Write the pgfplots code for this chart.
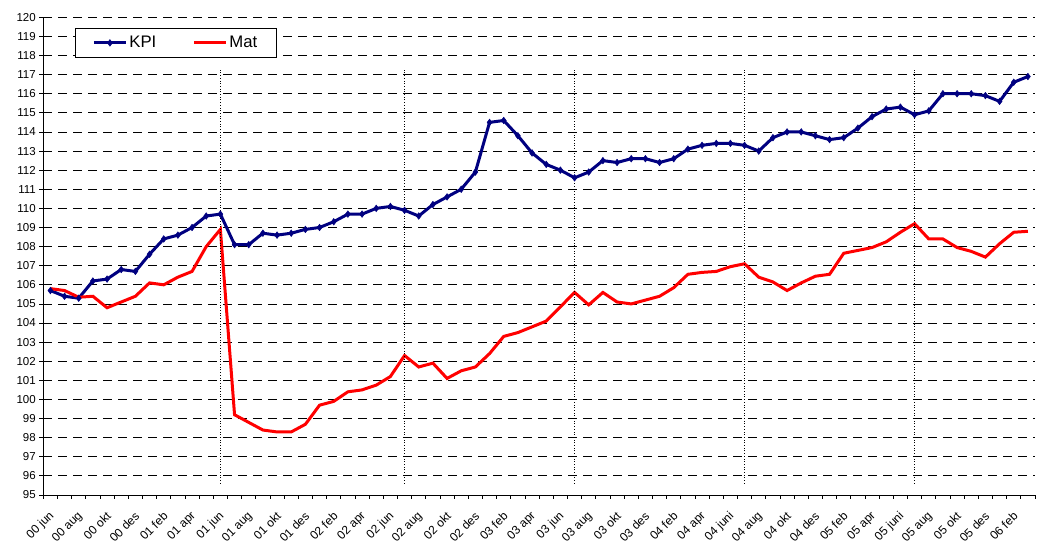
\documentclass[border=0pt]{standalone}
\usepackage{pgfplots}
\pgfplotsset{compat=1.18}
\usepackage{pgfplotstable}
\usepackage{fontspec}
\setmainfont{Liberation Sans}
\definecolor{kpiblue}{RGB}{0,0,128}
\definecolor{matred}{RGB}{255,0,0}
\pgfplotstableread{
i kpi mat
0 105.7 105.8
1 105.4 105.7
2 105.3 105.35
3 106.2 105.4
4 106.3 104.8
5 106.8 105.1
6 106.7 105.4
7 107.6 106.1
8 108.4 106.0
9 108.6 106.4
10 109.0 106.7
11 109.6 108.0
12 109.7 108.9
13 108.1 99.2
14 108.1 98.8
15 108.7 98.4
16 108.6 98.3
17 108.7 98.3
18 108.9 98.7
19 109.0 99.7
20 109.3 99.9
21 109.7 100.4
22 109.7 100.5
23 110.0 100.75
24 110.1 101.2
25 109.9 102.3
26 109.6 101.7
27 110.2 101.9
28 110.6 101.1
29 111.0 101.5
30 111.9 101.7
31 114.5 102.4
32 114.6 103.3
33 113.8 103.5
34 112.9 103.8
35 112.3 104.1
36 112.0 104.85
37 111.6 105.6
38 111.9 104.95
39 112.5 105.6
40 112.4 105.1
41 112.6 105.0
42 112.6 105.2
43 112.4 105.4
44 112.6 105.85
45 113.1 106.55
46 113.3 106.65
47 113.4 106.7
48 113.4 106.95
49 113.3 107.1
50 113.0 106.4
51 113.7 106.15
52 114.0 105.7
53 114.0 106.1
54 113.8 106.45
55 113.6 106.55
56 113.7 107.65
57 114.2 107.8
58 114.8 107.95
59 115.2 108.25
60 115.3 108.75
61 114.9 109.2
62 115.1 108.4
63 116.0 108.4
64 116.0 107.95
65 116.0 107.75
66 115.9 107.45
67 115.6 108.15
68 116.6 108.75
69 116.9 108.8
}\datatable
\begin{document}
\begin{tikzpicture}
\begin{axis}[
  at={(0pt,0pt)}, anchor=south west,
  scale only axis,
  width=991.7pt, height=477.7pt,
  xmin=-0.5, xmax=69.5,
  ymin=95, ymax=120,
  axis x line*=bottom, axis y line*=left,
  axis line style={black, line width=0.9pt},
  ytick={95,96,...,120},
  xtick={0,2,...,68},
  xticklabels={00 jun,00 aug,00 okt,00 des,01 feb,01 apr,01 jun,01 aug,01 okt,01 des,02 feb,02 apr,02 jun,02 aug,02 okt,02 des,03 feb,03 apr,03 jun,03 aug,03 okt,03 des,04 feb,04 apr,04 juni,04 aug,04 okt,04 des,05 feb,05 apr,05 juni,05 aug,05 okt,05 des,06 feb},
  minor xtick={-0.5,0.5,...,69.5},
  major x tick style={draw=none},
  minor x tick style={black, line width=0.8pt},
  y tick style={black, line width=0.8pt},
  tick align=outside,
  major tick length=4pt, minor tick length=4pt,
  ymajorgrids,
  major grid style={black, line width=0.8pt, dash pattern=on 9pt off 6pt},
  /pgf/number format/assume math mode=true,
  yticklabel style={font=\fontsize{11.5}{13}\selectfont, xshift=0pt},
  xticklabel style={font=\fontsize{12}{13}\selectfont, rotate=45, anchor=east, yshift=-12pt, xshift=-6pt},
  legend style={at={(0.032,0.9776)}, anchor=north west, draw=black, line width=0.8pt,
    font=\fontsize{16.7}{18}\selectfont, legend columns=2,
    /tikz/every even column/.append style={column sep=34pt},
    inner xsep=17pt, inner ysep=6pt},
  legend image code/.code={\draw[mark repeat=2,mark phase=2] plot coordinates {(0pt,0pt) (16pt,0pt) (32pt,0pt)};},
  clip=false,
]
\addplot[kpiblue, line width=3pt, mark=diamond*, mark size=3.3pt, mark options={line width=0.5pt}] table[x=i, y=kpi] {\datatable};
\addlegendentry{KPI}
\addplot[matred, line width=3pt, no marks] table[x=i, y=mat] {\datatable};
\addlegendentry{Mat}
\addplot[black, dotted, line width=0.7pt, forget plot] coordinates {(12,95.6) (12,117.3)};
\addplot[black, dotted, line width=0.7pt, forget plot] coordinates {(25,95.6) (25,117.3)};
\addplot[black, dotted, line width=0.7pt, forget plot] coordinates {(37,95.6) (37,117.3)};
\addplot[black, dotted, line width=0.7pt, forget plot] coordinates {(49,95.6) (49,117.3)};
\addplot[black, dotted, line width=0.7pt, forget plot] coordinates {(61,95.6) (61,117.3)};
\end{axis}
\pgfresetboundingbox
\path (-43.3pt,-48pt) rectangle (993.7pt,495pt);
\end{tikzpicture}
\end{document}
